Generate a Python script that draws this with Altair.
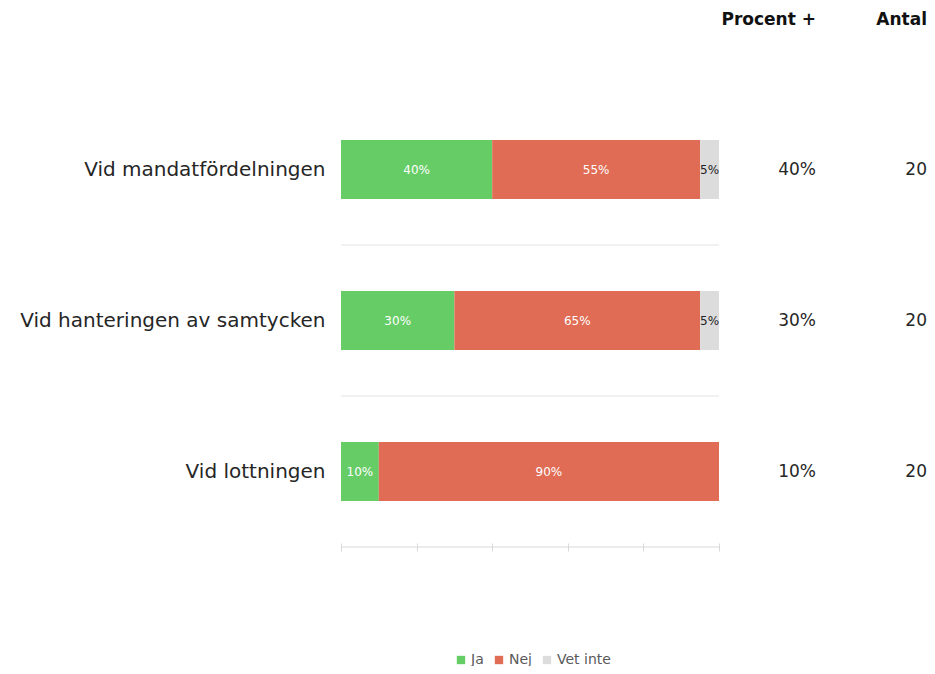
import altair as alt
import pandas as pd

categories = ["Vid mandatfördelningen", "Vid hanteringen av samtycken", "Vid lottningen"]
answers = ["Ja", "Nej", "Vet inte"]
ja = [40, 30, 10]
nej = [55, 65, 90]
vet_inte = [5, 5, 0]
antal = [20, 20, 20]
colors = ["#66cc66", "#e06c55", "#dcdcdc"]
ticks = [0, 20, 40, 60, 80, 100]

FONT = "DejaVu Sans"
W, H = 378, 453

rows = []
for i, c in enumerate(categories):
    for j, (a, vals) in enumerate(zip(answers, [ja, nej, vet_inte])):
        rows.append({"cat": c, "answer": a, "order": j, "value": vals[i]})
df = pd.DataFrame(rows)
summary = pd.DataFrame({"cat": categories, "procent": [f"{v}%" for v in ja], "antal": antal})
seps = pd.DataFrame({"cat": categories[1:]})

yscale = alt.Scale(domain=categories, paddingInner=0, paddingOuter=0)


def Y(**kw):
    return alt.Y("cat:N", sort=categories, scale=yscale, title=None, **kw)


yaxis = alt.Axis(domain=False, ticks=False, labelFont=FONT, labelFontSize=20,
                 labelColor="#262626", labelPadding=16, labelLimit=400)

bars = alt.Chart(df).mark_bar(size=59).encode(
    y=Y(axis=yaxis),
    x=alt.X("value:Q", stack="zero", scale=alt.Scale(domain=[0, 100], nice=False),
            axis=alt.Axis(values=ticks, labels=False, title=None, grid=False, domain=False,
                          tickColor="#d9d9d9", tickSize=8, offset=-4)),
    color=alt.Color("answer:N", scale=alt.Scale(domain=answers, range=colors),
                    legend=alt.Legend(title=None, orient="none", direction="horizontal",
                                      legendX=113, legendY=559, symbolType="square",
                                      symbolSize=70, symbolStrokeWidth=0, labelFont=FONT,
                                      labelFontSize=14, labelColor="#595959",
                                      labelOffset=3, columnPadding=8)),
    order=alt.Order("order:Q"),
)

labels = alt.Chart(df).transform_stack(
    stack="value", groupby=["cat"], as_=["x0", "x1"], sort=[alt.SortField("order")]
).transform_filter("datum.value > 0").transform_calculate(
    mid="(datum.x0 + datum.x1) / 2", lab="datum.value + '%'"
).mark_text(font=FONT, fontSize=12).encode(
    y=Y(),
    x=alt.X("mid:Q"),
    text="lab:N",
    color=alt.condition("datum.answer == 'Vet inte'", alt.value("#222222"), alt.value("white")),
)

sep = alt.Chart(seps).mark_rule(color="#e3e3e3", strokeWidth=1).encode(
    y=Y(bandPosition=0)
)

domain_line = alt.Chart(pd.DataFrame({"d": [0]})).mark_rule(color="#d9d9d9").encode(
    x=alt.value(0), x2=alt.value(W), y=alt.value(H)
)

pct = alt.Chart(summary).mark_text(font=FONT, fontSize=17, align="right", color="#262626").encode(
    y=Y(), x=alt.value(475), text="procent:N"
)
cnt = alt.Chart(summary).mark_text(font=FONT, fontSize=17, align="right", color="#262626").encode(
    y=Y(), x=alt.value(586), text="antal:N"
)

h1 = alt.Chart(pd.DataFrame({"t": ["Procent +"]})).mark_text(
    font=FONT, fontSize=17, fontWeight="bold", align="right", color="#111111"
).encode(x=alt.value(475), y=alt.value(-74), text="t:N")
h2 = alt.Chart(pd.DataFrame({"t": ["Antal"]})).mark_text(
    font=FONT, fontSize=17, fontWeight="bold", align="right", color="#111111"
).encode(x=alt.value(586), y=alt.value(-74), text="t:N")

chart = alt.layer(sep, domain_line, bars, labels, pct, cnt, h1, h2).properties(
    width=W, height=H,
    background="white",
    autosize=alt.AutoSizeParams(type="none"),
    padding={"left": 333, "top": 86, "right": 208, "bottom": 119},
).configure_view(strokeWidth=0, stroke=None)

chart.save("out.html", embed_options={"renderer": "svg", "actions": False})
